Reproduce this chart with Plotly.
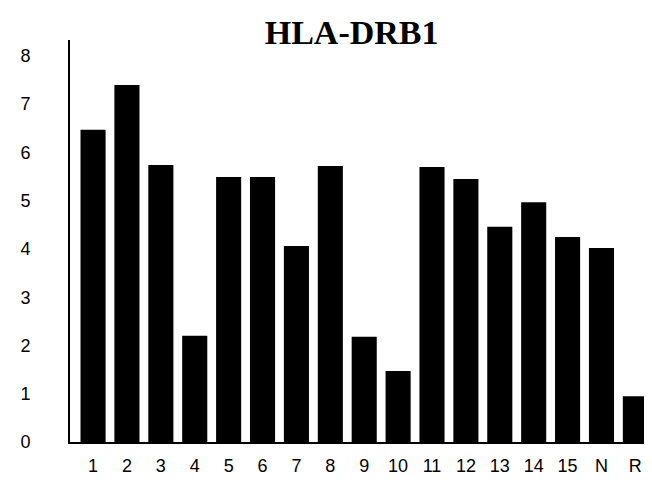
import plotly.graph_objects as go

# ── Data ──────────────────────────────────────────────────────────────────────
ALLELES = ["1", "2", "3", "4", "5", "6", "7", "8", "9", "10",
           "11", "12", "13", "14", "15", "N", "R"]
VALUES = [6.47, 7.40, 5.74, 2.20, 5.49, 5.49, 4.06, 5.72, 2.18, 1.47,
          5.70, 5.45, 4.46, 4.97, 4.25, 4.02, 0.95]
Y_TICKS = [0, 1, 2, 3, 4, 5, 6, 7, 8]

INK = "#000000"
TICK_FONT = dict(family="Liberation Sans, Arial, sans-serif", size=18, color=INK)

fig = go.Figure(go.Bar(
    x=ALLELES,
    y=VALUES,
    marker=dict(color=INK, line=dict(width=0)),
    width=0.74,
))

fig.update_layout(
    title=dict(
        text="<b>HLA-DRB1</b>",
        font=dict(family="Liberation Serif, Times New Roman, serif", size=34, color=INK),
        x=0.527, xanchor="center",
        y=0.95, yanchor="middle",
    ),
    xaxis=dict(
        type="category",
        range=[-0.68, 16.52],
        showline=True, linecolor=INK, linewidth=2,
        showgrid=False, zeroline=False,
        ticks="", tickfont=TICK_FONT,
        ticklabelstandoff=6,
    ),
    yaxis=dict(
        range=[0, 8.33],
        tickvals=Y_TICKS,
        showline=True, linecolor=INK, linewidth=2,
        showgrid=False, zeroline=False,
        ticks="", tickfont=TICK_FONT,
        ticklabelstandoff=34,
    ),
    plot_bgcolor="white",
    paper_bgcolor="white",
    margin=dict(l=62, r=7, t=32, b=51),
    width=652, height=485,
    showlegend=False,
)

fig.write_html("out.html")
